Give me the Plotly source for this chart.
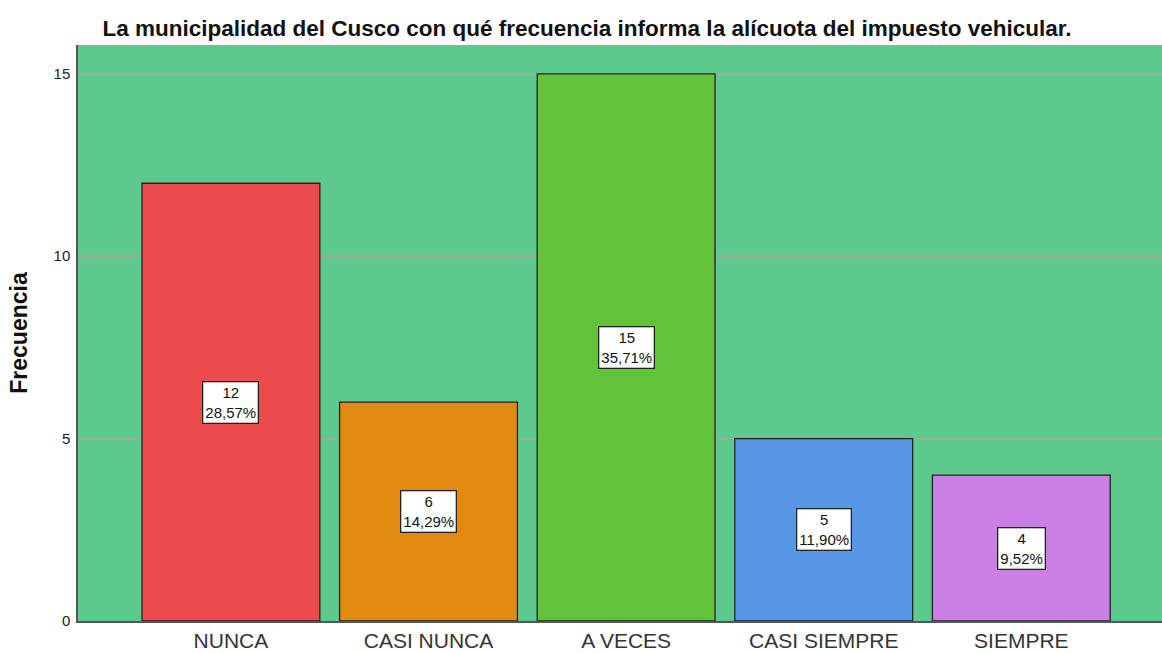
import plotly.graph_objects as go

categories = ["NUNCA", "CASI NUNCA", "A VECES", "CASI SIEMPRE", "SIEMPRE"]
counts = [12, 6, 15, 5, 4]
percents = ["28,57%", "14,29%", "35,71%", "11,90%", "9,52%"]
colors = ["#EC4B4E", "#E08A10", "#62C33A", "#5597E3", "#CB7FE3"]
y_ticks = [0, 5, 10, 15]

fig = go.Figure()
fig.add_trace(go.Bar(
    x=list(range(len(categories))), y=counts,
    marker=dict(color=colors, line=dict(color="#222222", width=1.3)),
    width=0.9, hoverinfo="skip",
))

for i, (c, p) in enumerate(zip(counts, percents)):
    fig.add_annotation(
        x=i, y=c / 2, text=f"{c}<br>{p}", showarrow=False,
        font=dict(family="Arial", size=15, color="#111111"),
        bgcolor="white", bordercolor="#222222", borderwidth=1.3, borderpad=2,
        align="center",
    )

fig.update_layout(
    width=1162, height=653,
    margin=dict(l=78, r=0, t=45, b=32),
    paper_bgcolor="white", plot_bgcolor="#5DC98C",
    title=dict(text="La municipalidad del Cusco con qué frecuencia informa la alícuota del impuesto vehicular.",
               x=587 / 1162, xref="container", xanchor="center", y=1 - 28 / 653, yanchor="middle",
               font=dict(family="Arial", size=22.5, color="#111111", weight="bold")),
    showlegend=False,
    bargap=0.1,
)
fig.update_xaxes(
    range=[-0.774, 4.712], tickmode="array", tickvals=list(range(len(categories))),
    ticktext=categories, showgrid=False, zeroline=False, automargin=False,
    showline=True, linecolor="#555555", linewidth=1.5,
    tickfont=dict(family="Arial", size=21, color="#333333"), ticks="", ticklen=0,
)
fig.update_yaxes(
    range=[0, 15.79], tickvals=y_ticks, showgrid=True, gridcolor="#A5A5A5", gridwidth=1.5,
    zeroline=False, showline=True, linecolor="#555555", linewidth=1.5, automargin=False,
    tickfont=dict(family="Arial", size=15, color="#222222"), ticks="outside", ticklen=3, tickcolor="rgba(0,0,0,0)",
    title=dict(text="Frecuencia", font=dict(family="Arial", size=23, color="#111111", weight="bold"), standoff=20),
)

fig.write_html("out.html", post_script="document.body.style.margin='0';",
               config={"displayModeBar": False})
